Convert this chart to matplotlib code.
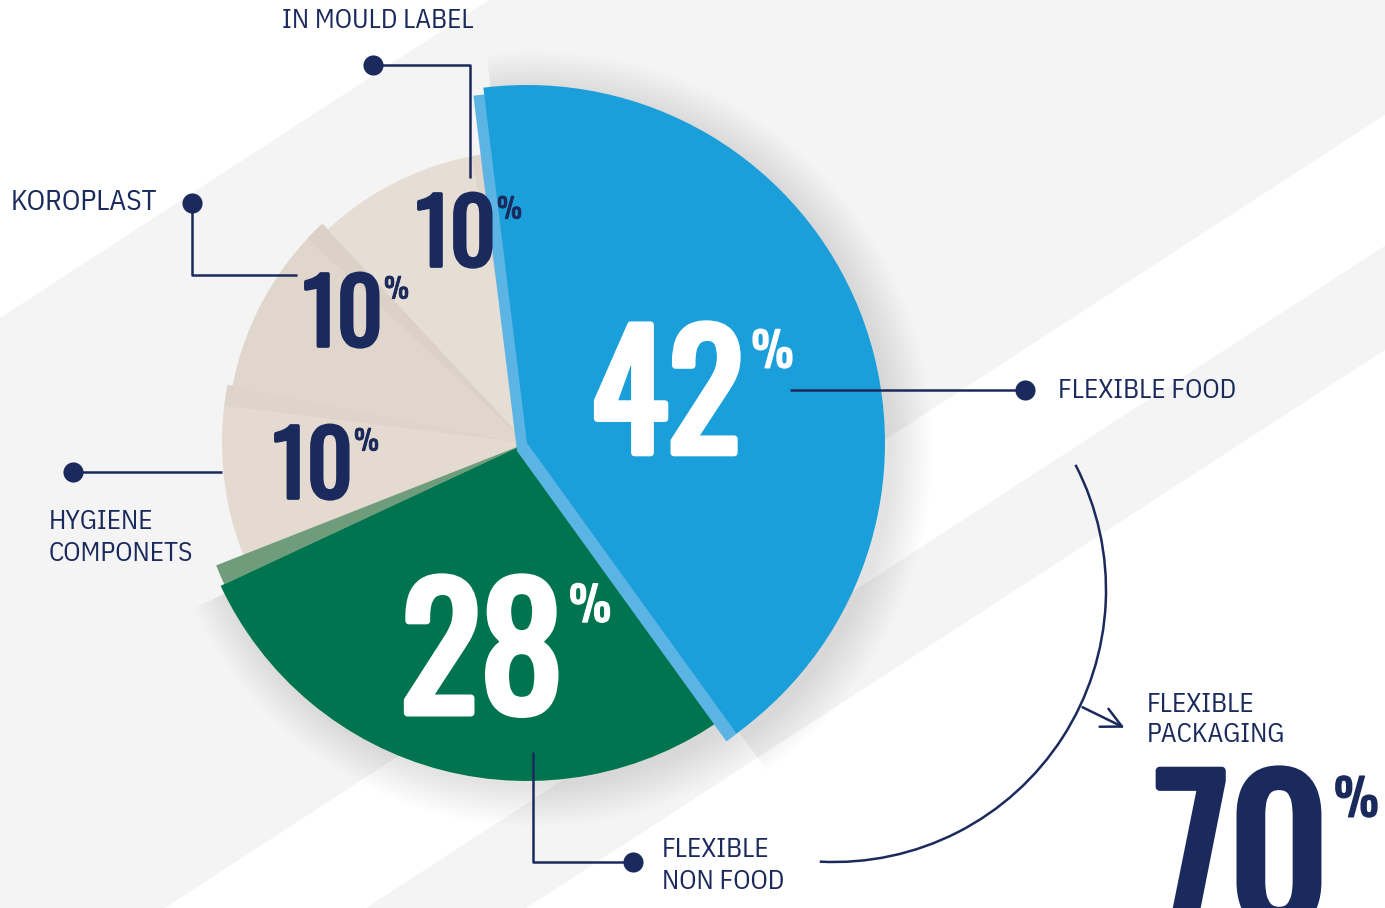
import numpy as np
import matplotlib
matplotlib.use("Agg")
import matplotlib.pyplot as plt
import matplotlib.patheffects as pe
from matplotlib.patches import Wedge, Polygon, Arc

# ---- data -------------------------------------------------------------
segments = ["FLEXIBLE FOOD", "FLEXIBLE NON FOOD", "HYGIENE COMPONETS",
            "KOROPLAST", "IN MOULD LABEL"]
shares = [42, 28, 10, 10, 10]
flexible_packaging = shares[0] + shares[1]   # 70

# ---- style / layout (pixel space, y down) -----------------------------
W, H = 1385, 908
NAVY = "#1b2a5c"
CENTER = (527, 443)
colors = ["#1b9fda", "#00744f", "#e4dad0", "#e0d6cb", "#e6ddd4"]
radii = [358, 338, 305, 300, 292]
NUM_FONT = ["Oswald", "Open Sans Condensed", "DejaVu Sans"]
LBL_FONT = ["IBM Plex Sans Condensed", "DejaVu Sans"]

fig = plt.figure(figsize=(W / 100, H / 100), dpi=100)
ax = fig.add_axes([0, 0, 1, 1])

# background diagonal bands
fig.patch.set_facecolor("white")
slope = 0.65
for y0a, y0b in [(318, 1015), (1146, 1250)]:
    ax.add_patch(Polygon([(0, y0a), (W, y0a - slope * W), (W, y0b - slope * W), (0, y0b)],
                         closed=True, facecolor="#f4f4f4", edgecolor="none", zorder=0))

# pie: screen clockwise from 97 deg -> data ccw from -97 with inverted y
wedges, _ = ax.pie(shares, colors=colors, startangle=-97, counterclock=True,
                   center=CENTER, radius=1, wedgeprops=dict(linewidth=0))
for w, r, z in zip(wedges, radii, [4, 3, 2, 2, 2]):
    w.set_radius(r)
    w.set_zorder(z)
blue, green = wedges[0], wedges[1]

# soft shadow behind the coloured slices
for i in range(14):
    for w in (blue, green):
        ax.add_patch(Wedge((CENTER[0] + 8, CENTER[1] + 6), w.r + 3 * i, w.theta1, w.theta2,
                           facecolor="k", edgecolor="none", alpha=0.009, zorder=1))

# faint shading on the beige slice borders
for w in wedges[2:]:
    ax.add_patch(Wedge(CENTER, w.r, w.theta2 - 4, w.theta2, facecolor="#d8cdc2",
                       edgecolor="none", alpha=0.45, zorder=2.2))

# 3d-ish side strips
ax.add_patch(Wedge((CENTER[0] - 10, CENTER[1] + 8), blue.r, blue.theta1, blue.theta2,
                   facecolor="#5cb4e5", edgecolor="none", zorder=3.5))
ax.add_patch(Wedge(CENTER, green.r - 4, green.theta2, green.theta2 + 3.5,
                   facecolor="#6f9c7b", edgecolor="none", zorder=2.5))

# ---- percentage numbers ----------------------------------------------
def big_number(value, cx, base, size, color, pct_size, gap):
    bold = [pe.withStroke(linewidth=0.042 * size, foreground=color)]
    t = ax.text(cx, base, f"{value}", ha="center", va="baseline", fontsize=size,
                color=color, family=NUM_FONT, zorder=6, path_effects=bold)
    ax.annotate("%", xy=(1, 1), xycoords=t, xytext=(gap, -0.03 * size),
                textcoords="offset points", ha="left", va="top", fontsize=pct_size,
                color=color, family=NUM_FONT, zorder=6,
                path_effects=[pe.withStroke(linewidth=0.03 * pct_size, foreground=color)])

big_number(shares[0], 667, 453, 114, "white", 34, 6)
big_number(shares[1], 482, 713, 120, "white", 34, 4)
big_number(shares[4], 456, 266, 64, NAVY, 20, 1)
big_number(shares[3], 343, 346, 64, NAVY, 20, 1)
big_number(shares[2], 313, 498, 64, NAVY, 20, 1)
big_number(flexible_packaging, 1242, 926, 138, NAVY, 36, 4)

# ---- leader lines, dots and category labels ---------------------------
leaders = [
    [(790, 390), (1025, 390)],
    [(533, 752), (533, 862), (633, 862)],
    [(73, 472), (222, 472)],
    [(192, 203), (192, 275), (297, 275)],
    [(373, 65), (470, 65), (470, 178)],
]
dots = [(1025, 390), (633, 862), (73, 472), (192, 203), (373, 65)]
label_text = ["FLEXIBLE FOOD", "FLEXIBLE\nNON FOOD", "HYGIENE\nCOMPONETS",
              "KOROPLAST", "IN MOULD LABEL"]
label_pos = [(1058, 390, "center"), (662, 837, "top"), (49, 509, "top"),
             (11, 202, "center"), (282, 20, "center")]
label_size = [19.5, 19.5, 19.5, 21, 19.5]

for pts, d, txt, (lx, ly, va), fs in zip(leaders, dots, label_text, label_pos, label_size):
    xs, ys = zip(*pts)
    ax.plot(xs, ys, color=NAVY, lw=1.8, zorder=5, solid_capstyle="butt")
    ax.scatter([d[0]], [d[1]], s=210, color=NAVY, zorder=6, linewidths=0)
    ax.text(lx, ly, txt, ha="left", va=va, fontsize=fs, color=NAVY,
            family=LBL_FONT, linespacing=1.36, zorder=6)

# bracket arc grouping flexible food + non food
ax.add_patch(Arc((834, 590), 544, 544, theta1=-27.4, theta2=93, color=NAVY, lw=1.8, zorder=5))
ax.annotate("", xy=(1127, 729), xytext=(1080, 706),
            arrowprops=dict(arrowstyle="->", color=NAVY, lw=1.8, mutation_scale=36), zorder=5)
ax.text(1147, 692, "FLEXIBLE\nPACKAGING", ha="left", va="top", fontsize=19.5, color=NAVY,
        family=LBL_FONT, linespacing=1.24, zorder=6)

ax.set_xlim(0, W)
ax.set_ylim(H, 0)
ax.set_aspect("equal")
ax.axis("off")
fig.savefig("out.png", dpi=100, facecolor="white")
